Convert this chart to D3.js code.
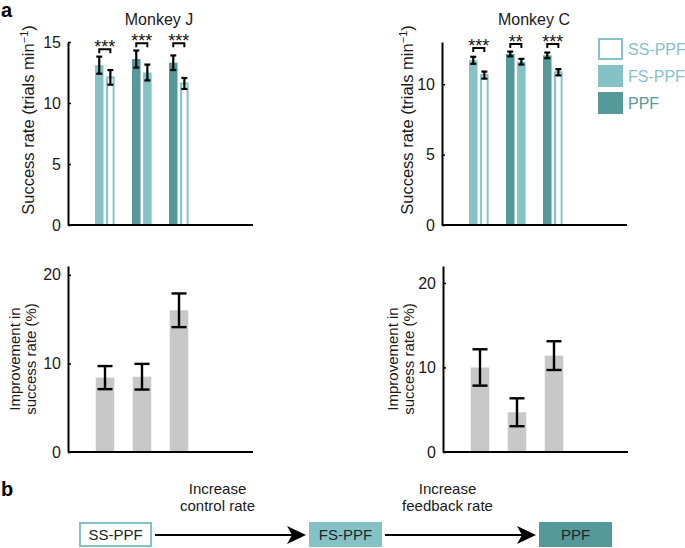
<!DOCTYPE html>
<html>
<head>
<meta charset="utf-8">
<script src="https://cdn.jsdelivr.net/npm/d3@7"></script>
<style>
  body { margin: 0; background: #fff; }
  text { font-family: "Liberation Sans", Arial, Helvetica, sans-serif; }
</style>
</head>
<body>
<div id="fig"></div>
<script>
// datos
var decoders = ["SS-PPF", "FS-PPF", "PPF"];
var pairLeft  = ["FS-PPF", "PPF", "PPF"];      // barra izquierda de cada par
var pairRight = ["SS-PPF", "FS-PPF", "SS-PPF"]; // barra derecha de cada par

var jLeft = [13.1, 13.6, 13.3];
var jLeftErr = [0.7, 0.7, 0.6];
var jRight = [12.1, 12.5, 11.6];
var jRightErr = [0.6, 0.65, 0.45];
var jStars = ["***", "***", "***"];
var jBracket = [14.4, 14.9, 14.9];

var cLeft = [11.7, 12.15, 12.05];
var cLeftErr = [0.25, 0.17, 0.2];
var cRight = [10.65, 11.6, 10.85];
var cRightErr = [0.25, 0.2, 0.22];
var cStars = ["***", "**", "***"];
var cBracket = [12.57, 12.86, 12.86];

var jImprove = [8.4, 8.5, 16.0];
var jImproveErr = [1.3, 1.45, 1.9];
var cImprove = [10.0, 4.7, 11.4];
var cImproveErr = [2.15, 1.65, 1.7];

var jTicks = [0, 5, 10, 15];
var cTicks = [0, 5, 10];
var impTicks = [0, 10, 20];

var w = 685, h = 548;
var colLight = "#85c2c6", colDark = "#55999b", colGray = "#c8c8c8";
var fill = { "SS-PPF": "#fff", "FS-PPF": colLight, "PPF": colDark };

var svg = d3.select("#fig").append("svg")
  .attr("width", w).attr("height", h)
  .style("background", "#fff");

function styleAxis(g) {
  g.select(".domain").attr("stroke", "#000").attr("stroke-width", 2);
  g.selectAll(".tick line").attr("stroke", "#000").attr("stroke-width", 1.5);
  g.selectAll(".tick text").attr("fill", "#1a1a1a").style("font-size", "16px")
    .style("font-family", "'Liberation Sans', Arial, sans-serif");
}

function errBar(g, cx, y, lo, hi, cap, sw) {
  g.append("line").attr("x1", cx).attr("x2", cx).attr("y1", y(lo)).attr("y2", y(hi))
    .attr("stroke", "#000").attr("stroke-width", sw);
  [lo, hi].forEach(function(v) {
    g.append("line").attr("x1", cx - cap / 2).attr("x2", cx + cap / 2)
      .attr("y1", y(v)).attr("y2", y(v)).attr("stroke", "#000").attr("stroke-width", sw);
  });
}

// panel de tasas de exito
function drawTop(o) {
  var x = d3.scaleLinear().domain([0, 5]).range([o.x0, o.x0 + 185]);
  var y = d3.scaleLinear().domain([0, o.ymax]).range([225, 225 - 183]);
  var g = svg.append("g");
  var bw = 0.23;

  o.left.forEach(function(v, i) {
    var c = i + 1;
    var items = [
      { dec: pairLeft[i], v: v, e: o.leftErr[i], xa: c - 0.27 },
      { dec: pairRight[i], v: o.right[i], e: o.rightErr[i], xa: c + 0.03 }
    ];
    items.forEach(function(d) {
      var outline = d.dec === "SS-PPF";
      g.append("rect")
        .attr("x", x(d.xa) + (outline ? 1 : 0))
        .attr("y", y(d.v))
        .attr("width", x(bw) - x(0) - (outline ? 2 : 0))
        .attr("height", y(0) - y(d.v))
        .attr("fill", fill[d.dec])
        .attr("stroke", outline ? colLight : "none")
        .attr("stroke-width", outline ? 2 : 0);
    });
    items.forEach(function(d) {
      errBar(g, x(d.xa + bw / 2), y, d.v - d.e, d.v + d.e, 6, 2.2);
    });
    // corchete de significancia
    var bx1 = x(items[0].xa + bw / 2), bx2 = x(items[1].xa + bw / 2), by = y(o.bracket[i]);
    g.append("path")
      .attr("d", "M" + bx1 + "," + (by + 4) + "V" + by + "H" + bx2 + "V" + (by + 4))
      .attr("fill", "none").attr("stroke", "#000").attr("stroke-width", 2);
    g.append("text").attr("x", (bx1 + bx2) / 2).attr("y", by + 4)
      .attr("text-anchor", "middle").style("font-size", "18px").attr("fill", "#111")
      .text(o.stars[i]);
  });

  g.append("g").attr("transform", "translate(" + o.x0 + ",0)")
    .call(d3.axisLeft(y).tickValues(o.ticks).tickSizeInner(-3).tickSizeOuter(0).tickPadding(7))
    .call(styleAxis);
  g.append("line").attr("x1", o.x0).attr("x2", x(5)).attr("y1", y(0)).attr("y2", y(0))
    .attr("stroke", "#000").attr("stroke-width", 2);

  g.append("text").attr("x", o.titleX).attr("y", 25).attr("text-anchor", "middle")
    .style("font-size", "16px").attr("fill", "#1a1a1a").text(o.title);

  var lab = g.append("text")
    .attr("transform", "translate(" + o.labX + ",120) rotate(-90)")
    .attr("text-anchor", "middle").style("font-size", "16.5px").attr("fill", "#1a1a1a");
  lab.append("tspan").text("Success rate (trials min");
  lab.append("tspan").attr("dy", -6).style("font-size", "11px").text("\u22121");
  lab.append("tspan").attr("dy", 6).text(")");
}

// panel de mejora
function drawBottom(o) {
  var x = d3.scaleLinear().domain([0, 5]).range([o.x0, o.x0 + 185]);
  var y = d3.scaleLinear().domain([0, o.ymax]).range([452, 452 - 186]);
  var g = svg.append("g");
  var bw = 0.5;

  o.vals.forEach(function(v, i) {
    var c = i + 1;
    g.append("rect")
      .attr("x", x(c - bw / 2)).attr("y", y(v))
      .attr("width", x(bw) - x(0)).attr("height", y(0) - y(v))
      .attr("fill", colGray);
  });
  o.vals.forEach(function(v, i) {
    errBar(g, x(i + 1), y, v - o.err[i], v + o.err[i], 15, 2.4);
  });

  g.append("g").attr("transform", "translate(" + o.x0 + ",0)")
    .call(d3.axisLeft(y).tickValues(impTicks).tickSizeInner(-3).tickSizeOuter(0).tickPadding(7))
    .call(styleAxis);
  g.append("line").attr("x1", o.x0).attr("x2", x(5)).attr("y1", y(0)).attr("y2", y(0))
    .attr("stroke", "#000").attr("stroke-width", 2);

  var lab = g.append("text")
    .attr("transform", "translate(" + o.labX + ",359) rotate(-90)")
    .attr("text-anchor", "middle").style("font-size", "15px").attr("fill", "#1a1a1a");
  lab.append("tspan").attr("x", 0).attr("dy", 0).text("Improvement in");
  lab.append("tspan").attr("x", 0).attr("dy", 16).text("success rate (%)");
}

drawTop({ x0: 68, ymax: 15, ticks: jTicks, left: jLeft, leftErr: jLeftErr,
  right: jRight, rightErr: jRightErr, stars: jStars, bracket: jBracket,
  title: "Monkey J", titleX: 159, labX: 34 });
drawTop({ x0: 442, ymax: 13, ticks: cTicks, left: cLeft, leftErr: cLeftErr,
  right: cRight, rightErr: cRightErr, stars: cStars, bracket: cBracket,
  title: "Monkey C", titleX: 534, labX: 413 });
drawBottom({ x0: 68, ymax: 21, vals: jImprove, err: jImproveErr, labX: 20 });
drawBottom({ x0: 443, ymax: 22, vals: cImprove, err: cImproveErr, labX: 398 });

// leyenda
var leg = svg.append("g");
decoders.forEach(function(d, i) {
  var ly = 38 + i * 27;
  leg.append("rect").attr("x", d === "SS-PPF" ? 599 : 598).attr("y", ly + (d === "SS-PPF" ? 1 : 0))
    .attr("width", d === "SS-PPF" ? 23 : 25).attr("height", d === "SS-PPF" ? 20 : 22)
    .attr("fill", fill[d]).attr("stroke", d === "SS-PPF" ? colLight : "none")
    .attr("stroke-width", 2);
  leg.append("text").attr("x", 628).attr("y", ly + 17)
    .style("font-size", "16px").attr("fill", d === "PPF" ? colDark : colLight).text(d);
});

// etiquetas de panel
svg.append("text").attr("x", 1).attr("y", 17).style("font-size", "20px")
  .style("font-weight", "bold").text("a");
svg.append("text").attr("x", 1).attr("y", 496).style("font-size", "20px")
  .style("font-weight", "bold").text("b");

// panel b: diagrama
var boxX = [79, 309, 539];
var steps = [["Increase", "control rate"], ["Increase", "feedback rate"]];
var flow = svg.append("g");
decoders.forEach(function(d, i) {
  var bx = boxX[i];
  flow.append("rect").attr("x", bx + (i === 0 ? 1 : 0)).attr("y", 522 + (i === 0 ? 1 : 0))
    .attr("width", 73 - (i === 0 ? 2 : 0)).attr("height", 25 - (i === 0 ? 2 : 0))
    .attr("fill", fill[d]).attr("stroke", i === 0 ? colLight : "none").attr("stroke-width", 2);
  flow.append("text").attr("x", bx + 36.5).attr("y", 540).attr("text-anchor", "middle")
    .style("font-size", "15px").attr("fill", "#1c2626").text(d);
});
steps.forEach(function(s, i) {
  var xa = boxX[i] + 76, xb = boxX[i + 1] - 3;
  flow.append("line").attr("x1", xa).attr("x2", xb - 14).attr("y1", 535).attr("y2", 535)
    .attr("stroke", "#000").attr("stroke-width", 2);
  flow.append("path")
    .attr("d", "M" + xb + ",535L" + (xb - 19) + ",526L" + (xb - 14) + ",535L" + (xb - 19) + ",544Z")
    .attr("fill", "#000");
  var cx = (xa + xb) / 2 - 13;
  flow.append("text").attr("x", cx).attr("y", 494).attr("text-anchor", "middle")
    .style("font-size", "15px").attr("fill", "#1a1a1a").text(s[0]);
  flow.append("text").attr("x", cx).attr("y", 511).attr("text-anchor", "middle")
    .style("font-size", "15px").attr("fill", "#1a1a1a").text(s[1]);
});
</script>
</body>
</html>
